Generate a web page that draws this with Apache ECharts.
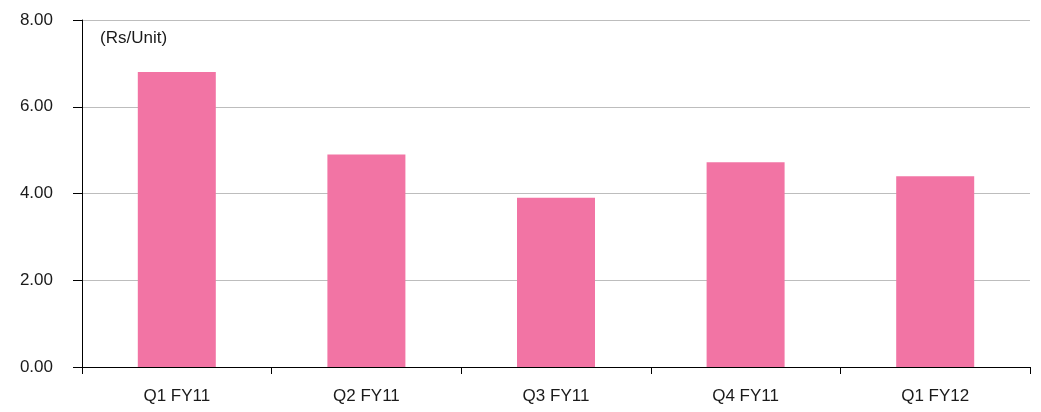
<!DOCTYPE html>
<html>
<head>
<meta charset="utf-8">
<script src="https://cdn.jsdelivr.net/npm/echarts@6/dist/echarts.min.js"></script>
<style>html,body{margin:0;padding:0;background:#fff}#c{width:1041px;height:412px}</style>
</head>
<body>
<div id="c"></div>
<script>
const categories = ['Q1 FY11', 'Q2 FY11', 'Q3 FY11', 'Q4 FY11', 'Q1 FY12'];
const values = [6.80, 4.90, 3.90, 4.72, 4.40];
const unitLabel = '(Rs/Unit)';

const chart = echarts.init(document.getElementById('c'));
chart.setOption({
  animation: false,
  backgroundColor: '#ffffff',
  title: {
    text: unitLabel, left: 100, top: 30, padding: 0,
    textStyle: { fontFamily: 'Liberation Sans, Arial', fontSize: 17, fontWeight: 'normal', color: '#1a1a1a' }
  },
  grid: { left: 82, right: 11, top: 20, bottom: 45 },
  xAxis: {
    type: 'category',
    data: categories,
    axisLine: { lineStyle: { color: '#000', width: 1 } },
    axisTick: { show: true, length: 7, alignWithLabel: false, lineStyle: { color: '#000' } },
    axisLabel: { color: '#1a1a1a', fontFamily: 'Liberation Sans, Arial', fontSize: 17, margin: 21 }
  },
  yAxis: {
    type: 'value',
    min: 0, max: 8, interval: 2,
    axisLine: { show: true, lineStyle: { color: '#000', width: 1 } },
    axisTick: { show: true, length: 9, lineStyle: { color: '#000' } },
    axisLabel: { color: '#1a1a1a', fontFamily: 'Liberation Sans, Arial', fontSize: 17, margin: 29,
      formatter: v => v.toFixed(2) },
    splitLine: { show: true, lineStyle: { color: '#bdbdbd', width: 1 } }
  },
  series: [{
    type: 'bar',
    data: values,
    barWidth: 78,
    itemStyle: { color: '#F274A4' }
  }]
});
</script>
</body>
</html>
